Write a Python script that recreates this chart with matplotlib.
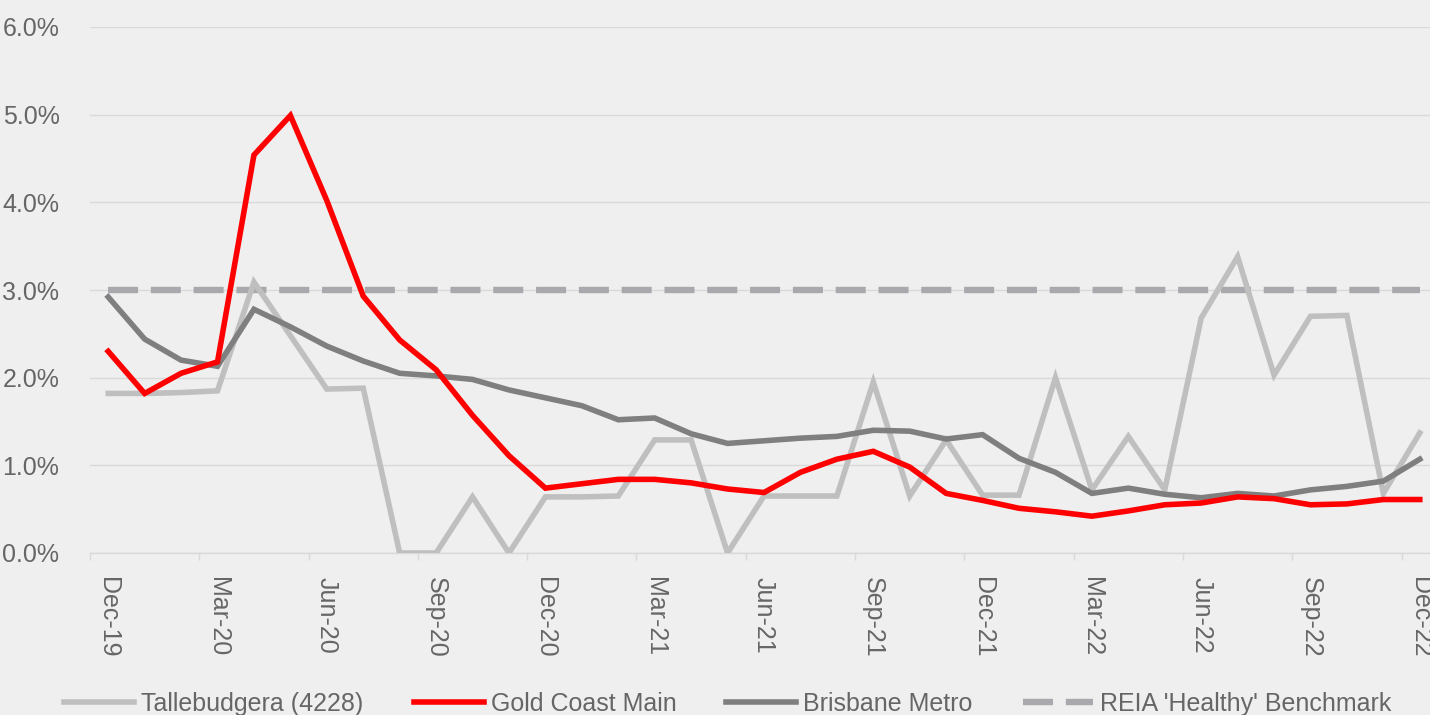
import numpy as np
import matplotlib
matplotlib.use("Agg")
import matplotlib.pyplot as plt

# ==================== Data ====================
months = ['Dec-19', 'Jan-20', 'Feb-20', 'Mar-20', 'Apr-20', 'May-20', 'Jun-20', 'Jul-20',
          'Aug-20', 'Sep-20', 'Oct-20', 'Nov-20', 'Dec-20', 'Jan-21', 'Feb-21', 'Mar-21',
          'Apr-21', 'May-21', 'Jun-21', 'Jul-21', 'Aug-21', 'Sep-21', 'Oct-21', 'Nov-21',
          'Dec-21', 'Jan-22', 'Feb-22', 'Mar-22', 'Apr-22', 'May-22', 'Jun-22', 'Jul-22',
          'Aug-22', 'Sep-22', 'Oct-22', 'Nov-22', 'Dec-22']

tallebudgera = [1.82, 1.82, 1.83, 1.85, 3.09, 2.48, 1.87, 1.88, 0.00, 0.00, 0.64, 0.00,
                0.64, 0.64, 0.65, 1.29, 1.29, 0.00, 0.65, 0.65, 0.65, 1.95, 0.65, 1.29,
                0.66, 0.66, 2.00, 0.72, 1.33, 0.72, 2.68, 3.38, 2.03, 2.70, 2.71, 0.68, 1.37]

gold_coast = [2.30, 1.82, 2.05, 2.18, 4.54, 4.99, 4.02, 2.93, 2.43, 2.09, 1.57, 1.11,
              0.74, 0.79, 0.84, 0.84, 0.80, 0.73, 0.69, 0.92, 1.07, 1.16, 0.98, 0.68,
              0.60, 0.51, 0.47, 0.42, 0.48, 0.55, 0.57, 0.64, 0.62, 0.55, 0.56, 0.61, 0.61]

brisbane = [2.92, 2.44, 2.20, 2.13, 2.78, 2.58, 2.36, 2.19, 2.05, 2.02, 1.98, 1.86,
            1.77, 1.68, 1.52, 1.54, 1.36, 1.25, 1.28, 1.31, 1.33, 1.40, 1.39, 1.30,
            1.35, 1.08, 0.92, 0.68, 0.74, 0.67, 0.63, 0.68, 0.65, 0.72, 0.76, 0.82, 1.07]

benchmark = [3.0] * len(months)

y_ticks = [0, 1, 2, 3, 4, 5, 6]

# ==================== Figure ====================
bg = '#efefef'
text_col = '#666666'
grid_col = '#d9d9d9'

fig = plt.figure(figsize=(14.3, 7.15), dpi=100, facecolor=bg)
ax = fig.add_axes([90 / 1430, (715 - 553) / 715, (1438 - 90) / 1430, (553 - 27) / 715])
ax.set_facecolor(bg)

x = np.arange(len(months))

ax.plot(x, tallebudgera, color='#bfbfbf', lw=4.0, label='Tallebudgera (4228)',
        solid_joinstyle='miter', zorder=3)
ax.plot(x, gold_coast, color='#ff0000', lw=4.0, label='Gold Coast Main',
        solid_joinstyle='miter', zorder=4)
ax.plot(x, brisbane, color='#7f7f7f', lw=4.0, label='Brisbane Metro',
        solid_joinstyle='miter', zorder=3)
ax.plot(x, benchmark, color='#a8a8ad', lw=4.6, dashes=(4.7, 2.0),
        label="REIA 'Healthy' Benchmark", zorder=2)

# axes styling
ax.set_xlim(-0.5, 36.5)
ax.set_ylim(0, 6)
ax.set_yticks(y_ticks)
ax.set_yticklabels([f'{v:.1f}%' for v in y_ticks])
ax.yaxis.grid(True, color=grid_col, lw=1)
ax.set_axisbelow(True)

ax.set_xticks(x[::3])
ax.set_xticklabels(months[::3], rotation=270, va='top', ha='center')
ax.set_xticks(np.arange(-0.5, 36.6, 3), minor=True)
ax.tick_params(axis='x', which='major', length=0, pad=17, labelsize=18, labelcolor=text_col)
ax.tick_params(axis='x', which='minor', length=5, color=grid_col, width=1)
ax.tick_params(axis='y', length=0, pad=22, labelsize=18, labelcolor=text_col)

for side in ['left', 'right', 'top']:
    ax.spines[side].set_visible(False)
ax.spines['bottom'].set_color(grid_col)
ax.spines['bottom'].set_linewidth(1)

for lab in ax.get_yticklabels() + ax.get_xticklabels():
    lab.set_family('Liberation Sans')

# ==================== Legend ====================
leg = fig.legend(loc='center', bbox_to_anchor=(0.509, 0.016), ncol=4, frameon=False,
                 handlelength=2.8, handletextpad=0.28, columnspacing=2.0,
                 prop={'family': 'Liberation Sans', 'size': 18})
for t in leg.get_texts():
    t.set_color(text_col)

fig.savefig('out.png', dpi=100, facecolor=bg)
